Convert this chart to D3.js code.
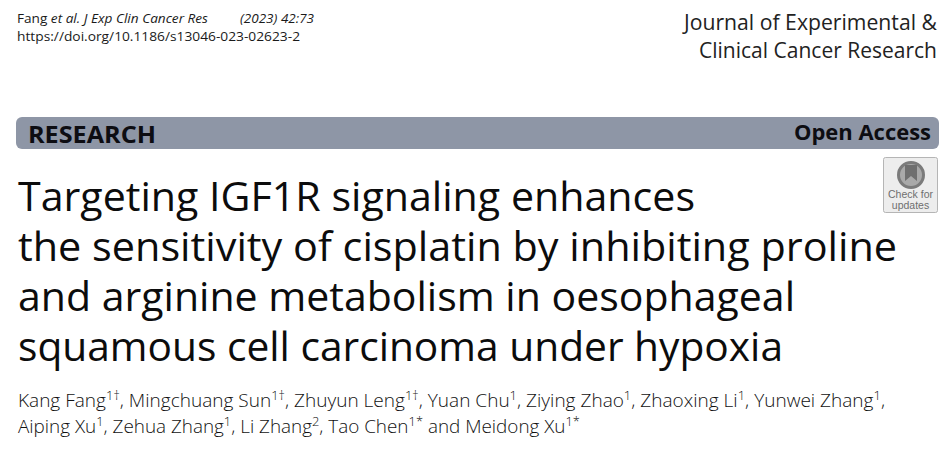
<!DOCTYPE html>
<html><head><meta charset="utf-8">
<script src="https://cdn.jsdelivr.net/npm/d3@7/dist/d3.min.js"></script>
<style>html,body{margin:0;padding:0;background:#fff}svg{display:block}text{font-family:"Open Sans","Noto Sans",sans-serif}</style>
</head><body><svg id="c" width="950" height="452"></svg>
<script>
const citationParts = [["Fang ",false],["et al. J Exp Clin Cancer Res",true]];
const citationYear = "(2023) 42:73";
const doiText = "https://doi.org/10.1186/s13046-023-02623-2";
const journalLines = ["Journal of Experimental &","Clinical Cancer Research"];
const articleType = "RESEARCH";
const accessLabel = "Open Access";
const titleLines = ["Targeting IGF1R signaling enhances","the sensitivity of cisplatin by inhibiting proline","and arginine metabolism in oesophageal","squamous cell carcinoma under hypoxia"];
const authorsLine1 = [["Kang Fang","1†",", "],["Mingchuang Sun","1†",", "],["Zhuyun Leng","1†",", "],["Yuan Chu","1",", "],["Ziying Zhao","1",", "],["Zhaoxing Li","1",", "],["Yunwei Zhang","1",","]];
const authorsLine2 = [["Aiping Xu","1",", "],["Zehua Zhang","1",", "],["Li Zhang","2",", "],["Tao Chen","1*"," and "],["Meidong Xu","1*",""]];
const badgeLines = ["Check for","updates"];

const svg = d3.select("#c");
const ink = "#1a1a1a";

function fit(sel,w,mode){ sel.attr("textLength",w).attr("lengthAdjust",mode||"spacingAndGlyphs"); return sel; }

// citation
const cit = svg.append("text").attr("x",17).attr("y",23).attr("font-size",13.2).attr("fill",ink);
cit.selectAll("tspan").data(citationParts).join("tspan").attr("font-style",d=>d[1]?"italic":"normal").text(d=>d[0]);
fit(cit,191);
fit(svg.append("text").attr("x",240).attr("y",23).attr("font-size",13.2).attr("font-style","italic").attr("fill",ink).text(citationYear),74);
fit(svg.append("text").attr("x",17).attr("y",41).attr("font-size",13.2).attr("fill",ink).text(doiText),283);

// journal
svg.selectAll("text.j").data(journalLines).join("text").attr("class","j")
  .attr("x",(d,i)=>[684,699][i])
  .attr("y",(d,i)=>29.5+i*28).attr("font-size",21).attr("fill","#222").text(d=>d)
  .attr("textLength",(d,i)=>[253,238][i]).attr("lengthAdjust","spacingAndGlyphs");

// banner
svg.append("rect").attr("x",16).attr("y",117).attr("width",923).attr("height",32).attr("rx",6).attr("fill","#8e96a6");
fit(svg.append("text").attr("x",28).attr("y",143).attr("font-size",23.5).attr("font-weight",700).attr("fill","#0d0d12").text(articleType),128);
fit(svg.append("text").attr("x",794).attr("y",140).attr("font-size",22).attr("font-weight",700).attr("fill","#0d0d12").text(accessLabel),137);

// badge
const b = svg.append("g").attr("transform","translate(883,157)");
b.append("rect").attr("x",0.5).attr("y",0.5).attr("width",54).attr("height",55).attr("rx",2).attr("fill","#ededed").attr("stroke","#b5b5b5");
b.append("circle").attr("cx",28).attr("cy",18).attr("r",12.5).attr("fill","#a9a9a9").attr("stroke","#7b7b7b").attr("stroke-width",3);
b.append("path").attr("d",d3.line()([[22,8],[34,8],[34,24],[28,19],[22,24]])+"Z").attr("fill","#6f6f6f");
b.selectAll("text").data(badgeLines).join("text").attr("x",27.5).attr("y",(d,i)=>41+i*10.5)
  .attr("text-anchor","middle").attr("font-size",10.5).attr("fill","#6f6f6f")
  .style("font-family","Liberation Sans, sans-serif").text(d=>d);

// title
const titleWidths = [677,879,777,765];
svg.selectAll("text.t").data(titleLines).join("text").attr("class","t")
  .attr("x",18).attr("y",(d,i)=>211+i*50).attr("font-size",40).attr("fill","#0c0c0c").text(d=>d)
  .attr("textLength",(d,i)=>titleWidths[i]).attr("lengthAdjust","spacingAndGlyphs");

// authors
function authorLine(list,y,w){
  const t = svg.append("text").attr("x",18).attr("y",y).attr("font-size",19).attr("font-weight",300).attr("fill","#111");
  list.forEach(a=>{
    t.append("tspan").text(a[0]);
    t.append("tspan").attr("dy",-7).attr("font-size",13).text(a[1]);
    if(a[2]) t.append("tspan").attr("dy",7).text(a[2]);
  });
  fit(t,w);
}
authorLine(authorsLine1,407,867);
authorLine(authorsLine2,433,562);
</script></body></html>
